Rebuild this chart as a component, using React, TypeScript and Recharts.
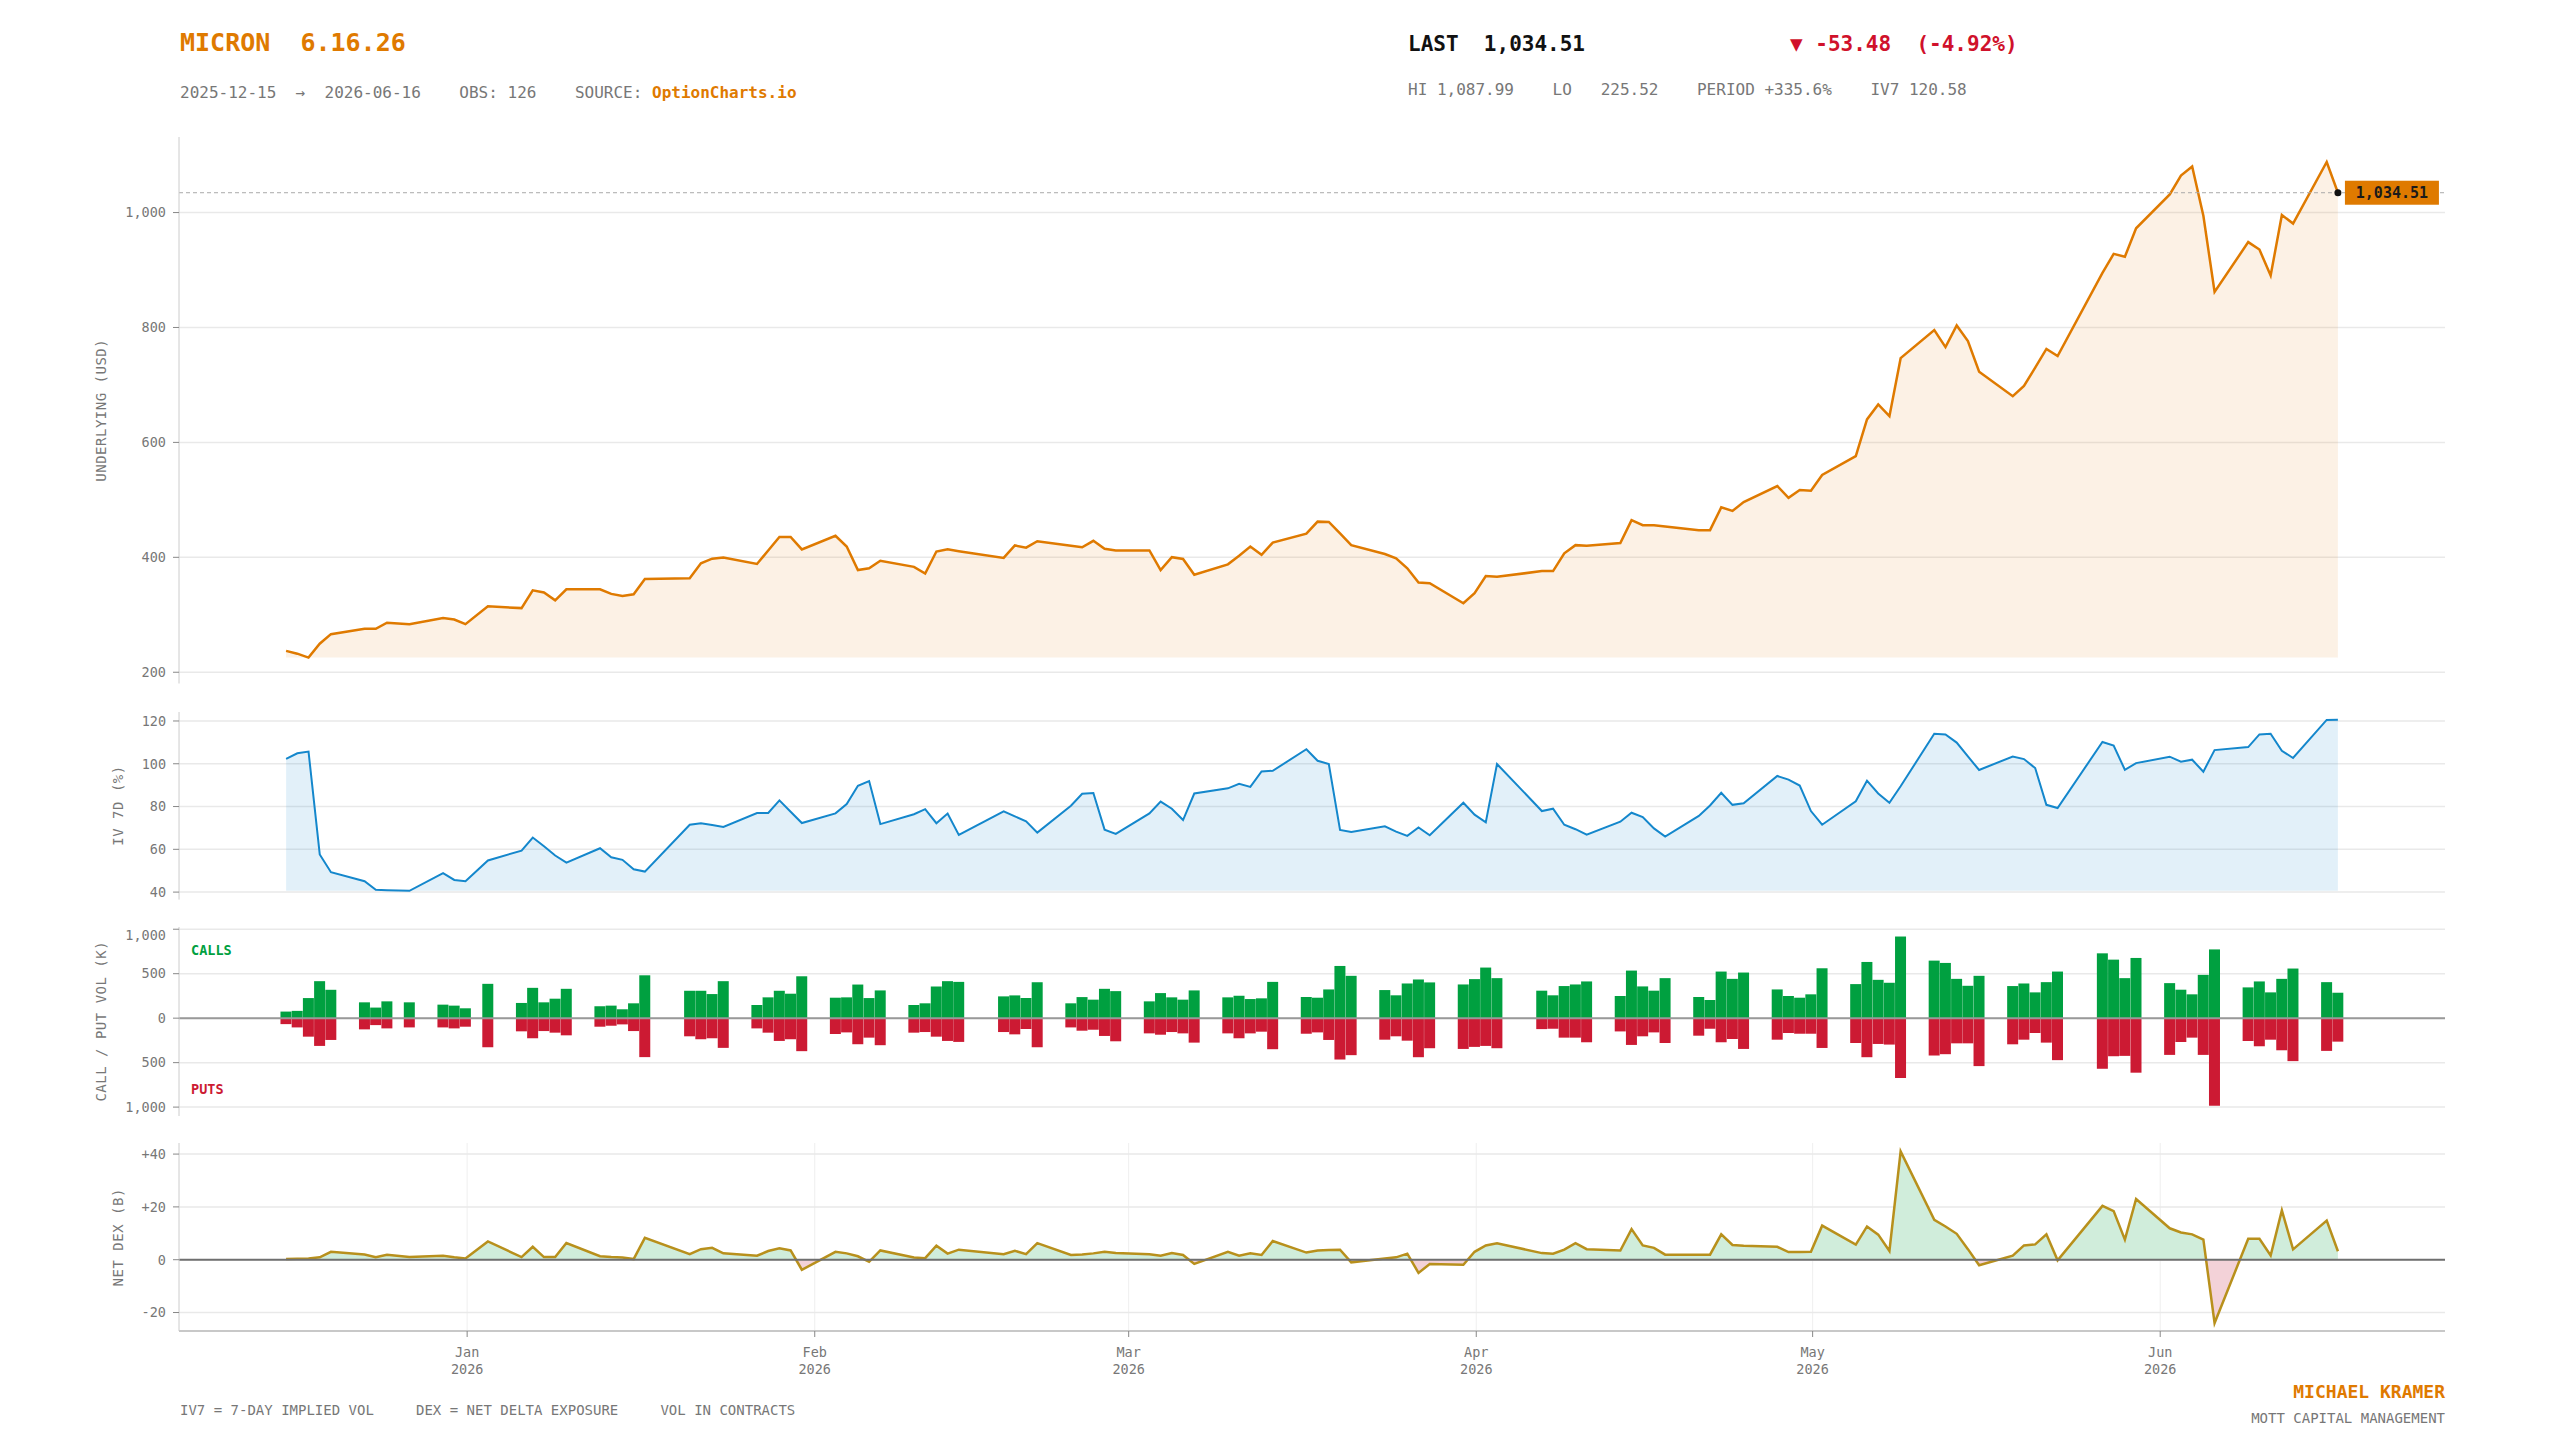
import React from 'react';
import {
  ComposedChart,
  Area,
  Bar,
  XAxis,
  YAxis,
  CartesianGrid,
  ReferenceLine,
  ReferenceDot,
} from 'recharts';

// trading sessions, by month
const DEC_DAYS = [15, 16, 17, 18, 19, 22, 23, 24, 26, 29, 30, 31];
const JAN_DAYS = [2, 5, 6, 7, 8, 9, 12, 13, 14, 15, 16, 20, 21, 22, 23, 26, 27, 28, 29, 30];
const FEB_DAYS = [2, 3, 4, 5, 6, 9, 10, 11, 12, 13, 17, 18, 19, 20, 23, 24, 25, 26, 27];
const MAR_DAYS = [2, 3, 4, 5, 6, 9, 10, 11, 12, 13, 16, 17, 18, 19, 20, 23, 24, 25, 26, 27, 30, 31];
const APR_DAYS = [1, 2, 6, 7, 8, 9, 10, 13, 14, 15, 16, 17, 20, 21, 22, 23, 24, 27, 28, 29, 30];
const MAY_DAYS = [1, 4, 5, 6, 7, 8, 11, 12, 13, 14, 15, 18, 19, 20, 21, 22, 26, 27, 28, 29];
const JUN_DAYS = [1, 2, 3, 4, 5, 8, 9, 10, 11, 12, 15, 16];

const PRICE = [
  237.2, 232.3, 225.52, 249.6, 266.3, 275.6, 275.6, 286.2, 283.7, 294.2, 291.7, 283.7,
  314.7, 311.6, 342.5, 338.8, 325.2, 344.4, 344.4, 336.4, 332.6, 335.7, 362.4, 363.6, 389.6, 397.7, 399.5, 388.4, 411.9, 435.5, 435.5, 413.8,
  437.4, 418.8, 377.9, 381.0, 394.0, 383.4, 371.7, 410.1, 413.8, 410.7, 398.9, 420.6, 416.9, 428.0, 420.0, 417.5, 428.7, 415.0, 411.9,
  411.9, 377.9, 400.2, 397.1, 369.8, 387.8, 402.7, 418.8, 404.5, 425.6, 441.1, 462.1, 461.5, 441.7, 421.2, 405.7, 398.3, 381.0, 356.0, 355.0, 320.0, 337.6,
  367.3, 366.1, 376.0, 376.0, 407.0, 421.2, 420.0, 425.0, 464.6, 456.0, 456.0, 453.5, 447.3, 447.3, 486.9, 480.7, 496.2, 524.1, 503.6, 517.3, 516.0,
  543.3, 576.2, 640.0, 666.0, 645.6, 746.6, 795.5, 765.8, 803.6, 776.3, 723.0, 680.3, 698.2, 730.0, 762.7, 750.3, 894.9, 928.1, 923.2, 972.7,
  1031.6, 1064.4, 1080.0, 994.4, 861.8, 948.6, 935.6, 890.3, 995.7, 980.8, 1087.99, 1034.51,
];

const IV7 = [
  102.3, 104.9, 105.7, 57.6, 49.3, 45.1, 41.1, 40.9, 40.6, 48.9, 45.7, 45.1,
  54.8, 59.4, 65.5, 61.4, 57.1, 53.8, 60.5, 56.3, 55.1, 50.7, 49.6, 71.5, 72.2, 71.4, 70.5, 77.0, 77.0, 82.9, 77.6, 72.3,
  76.8, 81.2, 89.7, 91.9, 71.8, 76.4, 78.8, 72.2, 76.7, 66.7, 77.8, 75.4, 73.1, 67.8, 80.4, 86.0, 86.3, 69.2, 67.2,
  76.8, 82.3, 79.0, 73.7, 86.1, 88.5, 90.6, 89.2, 96.4, 96.7, 106.8, 101.4, 99.9, 69.1, 68.1, 70.8, 68.3, 66.3, 70.2, 66.6, 81.8, 76.2,
  72.6, 99.9, 77.9, 79.0, 71.5, 69.4, 66.9, 72.9, 77.1, 75.1, 69.8, 66.0, 75.6, 80.5, 86.4, 80.8, 81.5, 94.3, 92.6, 89.8, 77.9,
  71.5, 82.5, 92.1, 86.1, 81.8, 89.5, 114.0, 113.7, 109.9, 103.4, 97.1, 103.4, 102.2, 98.0, 80.8, 79.3, 110.2, 108.5, 97.2, 100.3,
  103.3, 101.0, 101.9, 96.3, 106.4, 107.8, 113.7, 114.0, 106.1, 102.7, 120.5, 120.58,
];

// thousands of contracts
const CALLS = [
  74, 82, 226, 416, 319, 178, 119, 189, 178, 152, 141, 111,
  386, 171, 341, 178, 219, 330, 134, 141, 100, 167, 482, 308, 308, 271, 416, 148, 234, 308, 275, 471,
  230, 234, 378, 226, 312, 148, 167, 356, 416, 408, 245, 256, 226, 404, 167, 237, 208, 330, 304,
  189, 282, 234, 208, 312, 234, 252, 215, 223, 408, 238, 230, 323, 587, 476, 316, 257, 390, 435, 402, 379, 439,
  569, 450, 309, 257, 361, 379, 413, 249, 535, 357, 309, 450, 238, 204, 524, 442, 513, 323, 249, 230, 268,
  561, 383, 632, 431, 398, 918, 647, 621, 442, 364, 476, 361, 390, 290, 405, 524, 729, 658, 450, 677,
  394, 320, 268, 487, 773, 346, 413, 290, 442, 558, 405, 286,
];

const PUTS = [
  67, 104, 208, 312, 245, 126, 78, 115, 104, 104, 115, 96,
  327, 148, 226, 145, 163, 193, 96, 85, 70, 145, 438, 204, 237, 226, 334, 115, 163, 256, 237, 371,
  178, 160, 293, 219, 304, 163, 156, 208, 256, 267, 156, 182, 122, 327, 104, 141, 130, 200, 260,
  171, 186, 156, 171, 275, 171, 226, 171, 152, 349, 175, 160, 245, 465, 416, 242, 204, 253, 439, 338, 346, 323,
  312, 338, 123, 119, 219, 219, 271, 149, 301, 204, 160, 279, 197, 119, 271, 234, 346, 242, 167, 175, 175,
  335, 279, 439, 290, 297, 673, 420, 405, 283, 283, 539, 294, 242, 167, 275, 472, 569, 428, 424, 613,
  413, 268, 219, 413, 985, 257, 316, 242, 361, 483, 368, 264,
];

// net delta exposure, $B
const DEX = [
  0.25, 0.4, 0.5, 0.9, 3.0, 2.0, 0.9, 1.9, 1.0, 1.5, 0.9, 0.5,
  6.9, 1.0, 4.9, 1.0, 1.0, 6.3, 1.3, 1.0, 0.8, 0.25, 8.3, 2.1, 4.0, 4.5, 2.4, 1.5, 3.3, 4.3, 3.5, -3.8,
  3.0, 2.4, 1.3, -0.8, 3.5, 0.8, 0.6, 5.3, 2.3, 3.8, 2.1, 3.4, 2.1, 6.3, 1.8, 2.0, 2.4, 3.0, 2.5,
  2.1, 1.5, 2.5, 1.8, -1.6, 3.0, 1.5, 2.4, 1.8, 7.1, 2.7, 3.5, 3.7, 3.8, -1.0, 0.5, 0.9, 2.3, -5.0, -1.6, -1.9, 3.0,
  5.4, 6.2, 2.5, 2.3, 3.8, 6.3, 4.0, 3.5, 11.6, 5.4, 4.5, 1.9, 1.9, 1.9, 9.6, 5.6, 5.3, 4.9, 2.9, 2.9, 3.0,
  12.9, 5.7, 12.6, 9.5, 3.3, 41.0, 15.1, 12.6, 9.8, 4.0, -2.1, 1.5, 5.4, 5.8, 9.6, -0.25, 20.4, 18.4, 7.6, 23.0,
  11.9, 10.3, 9.6, 7.6, -24.0, 7.9, 7.9, 1.6, 18.7, 3.9, 14.8, 3.2,
];

const MONTH_LABELS = ['Jan', 'Feb', 'Mar', 'Apr', 'May', 'Jun'];
const PRICE_TICKS = [200, 400, 600, 800, 1000];
const IV_TICKS = [40, 60, 80, 100, 120];
const VOL_TICKS = [-1000, -500, 0, 500, 1000];
const DEX_TICKS = [-20, 0, 20, 40];

const MONO = '"DejaVu Sans Mono", monospace';
const ORANGE = '#DF7A00';
const RED = '#CC1A33';
const GREEN = '#00A040';
const BLUE = '#1487CC';
const OLIVE = '#B8901C';
const GREY = '#777';

const DAY_MS = 86400000;
const ORIGIN = Date.UTC(2026, 0, 1);
const SESSION_SHIFT = 0.85; // points sit at the session close
const SESSIONS: [number, number, number[]][] = [
  [2025, 11, DEC_DAYS],
  [2026, 0, JAN_DAYS],
  [2026, 1, FEB_DAYS],
  [2026, 2, MAR_DAYS],
  [2026, 3, APR_DAYS],
  [2026, 4, MAY_DAYS],
  [2026, 5, JUN_DAYS],
];
const XS = SESSIONS.flatMap(([y, m, days]) =>
  days.map((d) => (Date.UTC(y, m, d) - ORIGIN) / DAY_MS + SESSION_SHIFT),
);
const MONTH_TICKS = MONTH_LABELS.map((_, m) => (Date.UTC(2026, m, 1) - ORIGIN) / DAY_MS);
const X_DOMAIN: [number, number] = [-25.7, 176.4];

const data = XS.map((x, i) => ({
  x,
  price: PRICE[i],
  iv: IV7[i],
  calls: CALLS[i],
  puts: -PUTS[i],
  dex: DEX[i],
}));

const LAST = PRICE[PRICE.length - 1];
const LAST_X = XS[XS.length - 1];
const PRICE_LO = Math.min(...PRICE);
const IV_LO = Math.min(...IV7);
const DEX_HI = Math.max(...DEX);
const DEX_LO = Math.min(...DEX);
const dexZero = DEX_HI / (DEX_HI - DEX_LO);

const W = 2560;
const MARGIN = { top: 0, right: 115, bottom: 2, left: 0 };
const AXIS_W = 179;
const PANELS = [
  { top: 137, h: 546.5 },
  { top: 711.7, h: 187.6 },
  { top: 926.7, h: 189 },
  { top: 1143.3, h: 188 },
];

const tickStyle = { fill: GREY, fontSize: 13.5, fontFamily: MONO };
const fmtNum = (v: number) => v.toLocaleString('en-US');

const gridH = <CartesianGrid vertical={false} syncWithTicks stroke="#e9e9e9" strokeWidth={1.5} />;
const gridV = <CartesianGrid horizontal={false} syncWithTicks stroke="#efefef" strokeWidth={1} />;

const hiddenX = (
  <XAxis
    dataKey="x"
    type="number"
    domain={X_DOMAIN}
    ticks={MONTH_TICKS}
    allowDataOverflow
    tick={false}
    tickLine={false}
    height={0}
    axisLine={{ stroke: '#c8c8c8', strokeWidth: 2 }}
  />
);

const yAxis = (ticks: number[], domain: [number, number], fmt?: (v: number) => string) => (
  <YAxis
    type="number"
    width={AXIS_W}
    domain={domain}
    ticks={ticks}
    allowDataOverflow
    tick={tickStyle}
    tickFormatter={fmt}
    tickLine={{ stroke: '#888' }}
    tickMargin={7}
    axisLine={{ stroke: '#cccccc' }}
  />
);

const MonthTick = (props: any) => {
  const { x, y, payload } = props;
  const i = MONTH_TICKS.indexOf(payload.value);
  return (
    <text x={x} y={y} textAnchor="middle" {...tickStyle}>
      <tspan x={x} dy={17.5}>{MONTH_LABELS[i]}</tspan>
      <tspan x={x} dy={17.5}>2026</tspan>
    </text>
  );
};

const LastBadge = (p: any) => (
  <g>
    <circle cx={p.cx} cy={p.cy} r={3.5} fill="#111" />
    <rect x={p.cx + 7} y={p.cy - 12} width={94} height={24} fill={ORANGE} />
    <text
      x={p.cx + 54}
      y={p.cy}
      textAnchor="middle"
      dominantBaseline="central"
      fontFamily={MONO}
      fontSize={15}
      fontWeight="bold"
      fill="#1a1a1a"
    >
      {fmtNum(LAST)}
    </text>
  </g>
);

const pos = (top: number): React.CSSProperties => ({ position: 'absolute', left: 0, top });

const axisTitles = [
  { label: 'UNDERLYING (USD)', x: 101 },
  { label: 'IV 7D (%)', x: 117.6 },
  { label: 'CALL / PUT VOL (K)', x: 101 },
  { label: 'NET DEX (B)', x: 117.6 },
];

export default function App() {
  return (
    <div style={{ position: 'absolute', left: 0, top: 0, width: W, height: 1440, background: '#fff' }}>
      <div style={pos(PANELS[0].top)}>
        <ComposedChart width={W} height={PANELS[0].h + 2} data={data} margin={MARGIN}>
          {gridV}
          {gridH}
          {hiddenX}
          {yAxis(PRICE_TICKS, [180.4, 1131.5], fmtNum)}
          <Area
            dataKey="price"
            type="linear"
            baseValue={PRICE_LO}
            stroke={ORANGE}
            strokeWidth={2.5}
            fill={ORANGE}
            fillOpacity={0.1}
            dot={false}
            activeDot={false}
            isAnimationActive={false}
          />
          <ReferenceLine y={LAST} stroke="#aaa" strokeDasharray="4 3" />
          <ReferenceDot x={LAST_X} y={LAST} r={3.5} shape={LastBadge} />
        </ComposedChart>
      </div>

      <div style={pos(PANELS[1].top)}>
        <ComposedChart width={W} height={PANELS[1].h + 2} data={data} margin={MARGIN}>
          {gridV}
          {gridH}
          {hiddenX}
          {yAxis(IV_TICKS, [36.5, 124.2])}
          <Area
            dataKey="iv"
            type="linear"
            baseValue={IV_LO}
            stroke={BLUE}
            strokeWidth={2}
            fill={BLUE}
            fillOpacity={0.12}
            dot={false}
            activeDot={false}
            isAnimationActive={false}
          />
        </ComposedChart>
      </div>

      <div style={pos(PANELS[2].top)}>
        <ComposedChart width={W} height={PANELS[2].h + 2} data={data} margin={MARGIN} stackOffset="sign">
          {gridV}
          {gridH}
          {hiddenX}
          {yAxis(VOL_TICKS, [-1100, 1025], (v) => fmtNum(Math.abs(v)))}
          <Bar dataKey="calls" stackId="v" fill={GREEN} barSize={11} isAnimationActive={false} />
          <Bar dataKey="puts" stackId="v" fill={RED} barSize={11} isAnimationActive={false} />
          <ReferenceLine y={0} stroke="#999" strokeWidth={2} />
        </ComposedChart>
      </div>

      <div style={pos(PANELS[3].top)}>
        <ComposedChart width={W} height={PANELS[3].h + 50} data={data} margin={{ ...MARGIN, bottom: 0 }}>
          <defs>
            <linearGradient id="dexFill" x1="0" y1="0" x2="0" y2="1">
              <stop offset={dexZero} stopColor="#D0EDDB" />
              <stop offset={dexZero} stopColor="#F3D2D8" />
            </linearGradient>
          </defs>
          {gridV}
          {gridH}
          <XAxis
            dataKey="x"
            type="number"
            domain={X_DOMAIN}
            ticks={MONTH_TICKS}
            allowDataOverflow
            height={50}
            tick={<MonthTick />}
            tickLine={{ stroke: '#888' }}
            axisLine={{ stroke: '#c8c8c8', strokeWidth: 2 }}
          />
          {yAxis(DEX_TICKS, [-27, 44.2], (v) => (v > 0 ? `+${v}` : `${v}`))}
          <Area
            dataKey="dex"
            type="linear"
            baseValue={0}
            stroke={OLIVE}
            strokeWidth={2.5}
            fill="url(#dexFill)"
            fillOpacity={1}
            dot={false}
            activeDot={false}
            isAnimationActive={false}
          />
          <ReferenceLine y={0} stroke="#6f6f6f" strokeWidth={2} />
        </ComposedChart>
      </div>

      <svg
        width={W}
        height={1440}
        style={{ position: 'absolute', left: 0, top: 0, pointerEvents: 'none' }}
        fontFamily={MONO}
      >
        <text x={180} y={51} fontSize={25} fontWeight="bold" fill={ORANGE} style={{ whiteSpace: 'pre' }}>
          MICRON  6.16.26
        </text>
        <text x={180} y={97.5} fontSize={16} fill={GREY} style={{ whiteSpace: 'pre' }}>
          {'2025-12-15  →  2026-06-16    OBS: 126    SOURCE: '}
          <tspan fill={ORANGE} fontWeight="bold">OptionCharts.io</tspan>
        </text>
        <text x={1408} y={51} fontSize={21} fontWeight="bold" fill="#111" style={{ whiteSpace: 'pre' }}>
          LAST  1,034.51
        </text>
        <text x={1790} y={51} fontSize={21} fontWeight="bold" fill="#D0112B" style={{ whiteSpace: 'pre' }}>
          ▼ -53.48  (-4.92%)
        </text>
        <text x={1408} y={94.5} fontSize={16} fill={GREY} style={{ whiteSpace: 'pre' }}>
          HI 1,087.99    LO   225.52    PERIOD +335.6%    IV7 120.58
        </text>

        {axisTitles.map((t, i) => (
          <text
            key={t.label}
            transform={`translate(${t.x},${PANELS[i].top + PANELS[i].h / 2}) rotate(-90)`}
            textAnchor="middle"
            dominantBaseline="central"
            fontSize={14}
            letterSpacing={0.5}
            fill={GREY}
            style={{ whiteSpace: 'pre' }}
          >
            {t.label}
          </text>
        ))}

        <text x={191} y={955} fontSize={13.5} fontWeight="bold" fill={GREEN}>CALLS</text>
        <text x={191} y={1094} fontSize={13.5} fontWeight="bold" fill={RED}>PUTS</text>

        <text x={180} y={1415} fontSize={14} fill={GREY} style={{ whiteSpace: 'pre' }}>
          IV7 = 7-DAY IMPLIED VOL     DEX = NET DELTA EXPOSURE     VOL IN CONTRACTS
        </text>
        <text x={2445} y={1398} textAnchor="end" fontSize={18} fontWeight="bold" fill={ORANGE}>
          MICHAEL KRAMER
        </text>
        <text x={2445} y={1423} textAnchor="end" fontSize={14} fill={GREY}>
          MOTT CAPITAL MANAGEMENT
        </text>
      </svg>
    </div>
  );
}
